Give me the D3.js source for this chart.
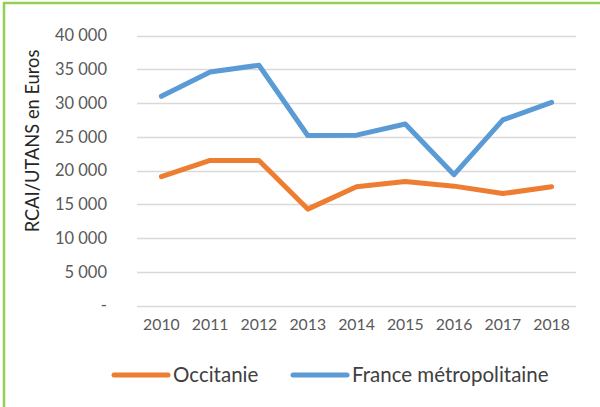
<!DOCTYPE html>
<html>
<head>
<meta charset="utf-8">
<script src="https://cdn.jsdelivr.net/npm/d3@7"></script>
<style>
  body { margin: 0; background: #fff; }
  svg { display: block; font-family: Lato, "Open Sans", sans-serif; }
</style>
</head>
<body>
<script>
const years = ['2010', '2011', '2012', '2013', '2014', '2015', '2016', '2017', '2018'];
const occitanie = [19100, 21500, 21500, 14300, 17600, 18400, 17700, 16600, 17600];
const france = [31000, 34600, 35600, 25200, 25250, 26900, 19400, 27500, 30100];
const yTicks = [0, 5000, 10000, 15000, 20000, 25000, 30000, 35000, 40000];
const seriesNames = ['Occitanie', 'France métropolitaine'];

const w = 600;
const h = 407;

const svg = d3.select('body')
              .append('svg')
              .attr('width', w)
              .attr('height', h);

// green frame (top and left edges only visible)
svg.append('path')
   .attr('d', 'M4,407 L4,3 L600,3')
   .attr('fill', 'none')
   .attr('stroke', '#92D050')
   .attr('stroke-width', 2.5);

const xScale = d3.scaleBand()
                 .domain(years)
                 .range([137, 576]);

const yScale = d3.scaleLinear()
                 .domain([0, 40000])
                 .range([305.7, 35.5]);

const fmt = (v) => v === 0 ? '-' : d3.format(',')(v).replace(',', ' ');

// gridlines
svg.append('g')
   .selectAll('line')
   .data(yTicks)
   .enter()
   .append('line')
   .attr('x1', 137)
   .attr('x2', 576)
   .attr('y1', (d) => Math.round(yScale(d)) + 0.5)
   .attr('y2', (d) => Math.round(yScale(d)) + 0.5)
   .attr('stroke', '#D9D9D9')
   .attr('stroke-width', 1.3);

const yAxis = d3.axisLeft(yScale).tickValues(yTicks).tickSize(0).tickPadding(0).tickFormat(fmt);
svg.append('g')
   .attr('id', 'y-axis')
   .attr('transform', 'translate(107,0)')
   .call(yAxis)
   .call((g) => g.select('.domain').remove())
   .selectAll('text')
   .attr('fill', '#595959')
   .attr('font-size', 16.5)
   .attr('font-family', 'Lato, "Open Sans", sans-serif');

const xAxis = d3.axisBottom(xScale).tickSize(0).tickPadding(0);
svg.append('g')
   .attr('id', 'x-axis')
   .attr('transform', 'translate(0,319)')
   .call(xAxis)
   .call((g) => g.select('.domain').remove())
   .selectAll('text')
   .attr('fill', '#595959')
   .attr('font-size', 15.8)
   .attr('font-family', 'Lato, "Open Sans", sans-serif');

svg.append('text')
   .text('RCAI/UTANS en Euros')
   .attr('transform', 'translate(39,141)rotate(-90)')
   .attr('text-anchor', 'middle')
   .attr('fill', '#262626')
   .attr('font-size', 18.3);

const line = d3.line()
               .x((d, i) => xScale(years[i]) + xScale.bandwidth() / 2)
               .y((d) => yScale(d));

const colors = ['#ED7D31', '#5B9BD5'];
[occitanie, france].forEach((s, k) => {
  svg.append('path')
     .datum(s)
     .attr('d', line)
     .attr('fill', 'none')
     .attr('stroke', colors[k])
     .attr('stroke-width', 5)
     .attr('stroke-linecap', 'round')
     .attr('stroke-linejoin', 'round');
});

// legend
const legendX = [114, 293];
seriesNames.forEach((name, k) => {
  const g = svg.append('g').attr('transform', 'translate(' + legendX[k] + ',375)');
  g.append('line')
   .attr('x1', 0).attr('x2', 54)
   .attr('y1', 0).attr('y2', 0)
   .attr('stroke', colors[k])
   .attr('stroke-width', 5)
   .attr('stroke-linecap', 'round');
  g.append('text')
   .text(name)
   .attr('x', 59)
   .attr('y', 7)
   .attr('fill', '#404040')
   .attr('font-size', 20.5);
});
</script>
</body>
</html>
